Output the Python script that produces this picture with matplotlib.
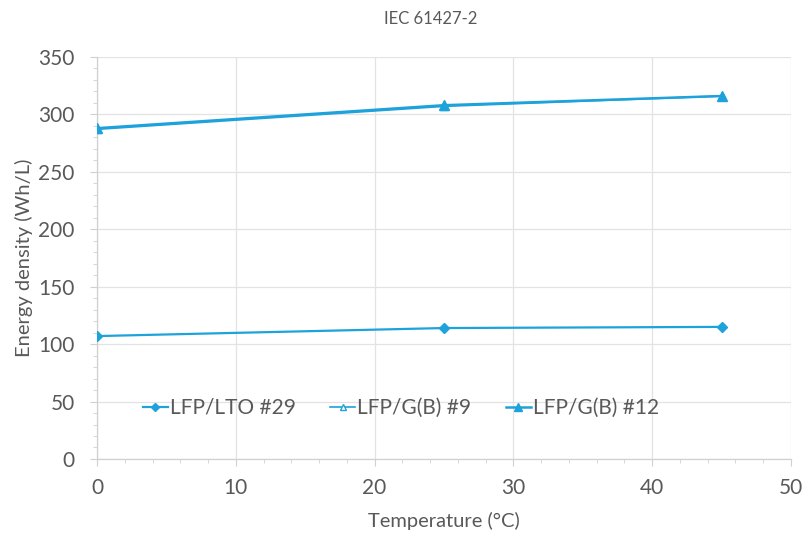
import matplotlib
matplotlib.use("Agg")
import matplotlib.pyplot as plt
from matplotlib.ticker import MultipleLocator

plt.rcParams['font.family'] = ['Lato', 'DejaVu Sans']

temperature = [0, 25, 45]
lfp_lto_29 = [107, 114, 115]
lfp_gb_9 = [287, 307, 316]
lfp_gb_12 = [288, 308, 316]

labels = ["LFP/LTO #29", "LFP/G(B) #9", "LFP/G(B) #12"]
title = "IEC 61427-2"
xlabel = "Temperature (°C)"
ylabel = "Energy density (Wh/L)"

line_color = "#1DA2DB"
text_color = "#595959"
grid_color = "#E3E3E3"

fig = plt.figure(figsize=(8.05, 5.36), dpi=100)
ax = fig.add_axes([0.1205, 0.1437, 0.862, 0.75])

ax.plot(temperature, lfp_lto_29, color=line_color, lw=1.6, marker="D",
        ms=5, label=labels[0], zorder=3)
ax.plot(temperature, lfp_gb_9, color=line_color, lw=1.2, marker="^",
        ms=6, mfc="white", label=labels[1], zorder=3)
ax.plot(temperature, lfp_gb_12, color=line_color, lw=1.8, marker="^",
        ms=7, label=labels[2], zorder=4)

ax.set_xlim(0, 50)
ax.set_ylim(0, 350)
ax.xaxis.set_major_locator(MultipleLocator(10))
ax.xaxis.set_minor_locator(MultipleLocator(2))
ax.yaxis.set_major_locator(MultipleLocator(50))
ax.yaxis.set_minor_locator(MultipleLocator(10))

ax.grid(True, which="major", color=grid_color, lw=0.9, zorder=0)
for side in ["top", "right"]:
    ax.spines[side].set_visible(False)
for side in ["left", "bottom"]:
    ax.spines[side].set_color("#D0D0D0")
    ax.spines[side].set_linewidth(0.9)

ax.tick_params(axis="both", which="major", length=5, color="#D0D0D0",
               labelsize=15, labelcolor=text_color)
ax.tick_params(axis="x", which="major", pad=9)
ax.tick_params(axis="y", which="major", pad=11)
ax.tick_params(axis="both", which="minor", length=3, color="#D0D0D0")

ax.set_xlabel(xlabel, fontsize=14.5, color=text_color, labelpad=10)
ax.set_ylabel(ylabel, fontsize=14.5, color=text_color, labelpad=4)
fig.text(0.535, 0.964, title, ha="center", va="center", fontsize=12,
         color=text_color)

leg = ax.legend(loc="center", bbox_to_anchor=(0.438, 0.127), ncol=3,
                frameon=False, fontsize=15, labelcolor=text_color,
                handlelength=1.2, handletextpad=0.1, columnspacing=1.65,
                markerscale=0.75)

fig.savefig("out.png", dpi=100)
